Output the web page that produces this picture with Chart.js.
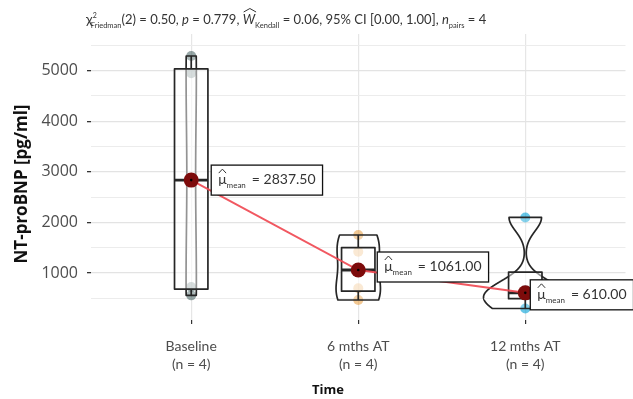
<!DOCTYPE html>
<html>
<head>
<meta charset="utf-8">
<script src="https://cdn.jsdelivr.net/npm/chart.js@4"></script>
<style>
html, body { margin: 0; padding: 0; background: #fff; }
</style>
</head>
<body>
<canvas id="myChart" width="633" height="399"></canvas>
<script>
// data
var groups = ['Baseline', '6 mths AT', '12 mths AT'];
var groupN = [4, 4, 4];
var baseline = [560, 725, 4950, 5290];
var sixMonths = [468, 700, 1422, 1753];
var twelveMonths = [300, 560, 660, 2100];
var meanValues = [2837.50, 1061.00, 610.00];
var yTicks = [500, 1000, 1500, 2000, 2500, 3000, 3500, 4000, 4500, 5000, 5500];
var yLabels = [1000, 2000, 3000, 4000, 5000];

var series = [baseline, sixMonths, twelveMonths];
var pointColors = ['rgba(47,79,79,0.5)', 'rgba(230,145,40,0.5)', 'rgba(0,160,215,0.6)'];
// where ggrepel put the mean labels (pixels from the mean dot)
var labelOffsets = [[20, 0], [19, -3], [5, 2]];

function quantile(arr, p) {
    var s = arr.slice().sort(function (a, b) { return a - b; });
    var h = (s.length - 1) * p;
    var lo = Math.floor(h);
    var hi = Math.ceil(h);
    return s[lo] + (h - lo) * (s[hi] - s[lo]);
}

function sd(arr) {
    var m = arr.reduce(function (a, b) { return a + b; }, 0) / arr.length;
    var ss = 0;
    arr.forEach(function (v) { ss += (v - m) * (v - m); });
    return Math.sqrt(ss / (arr.length - 1));
}

// gaussian kde with bw.nrd0, trimmed to the data range
function kde(arr) {
    var iqr = quantile(arr, 0.75) - quantile(arr, 0.25);
    var bw = 0.9 * Math.min(sd(arr), iqr / 1.34) * Math.pow(arr.length, -0.2);
    var lo = Math.min.apply(null, arr);
    var hi = Math.max.apply(null, arr);
    var out = [];
    for (var i = 0; i < 512; i++) {
        var y = lo + (hi - lo) * i / 511;
        var d = 0;
        arr.forEach(function (v) {
            var z = (y - v) / bw;
            d += Math.exp(-0.5 * z * z) / Math.sqrt(2 * Math.PI);
        });
        out.push({ y: y, d: d / (arr.length * bw) });
    }
    return out;
}

var densities = series.map(kde);
var maxDensity = 0;
densities.forEach(function (ds) {
    ds.forEach(function (p) { if (p.d > maxDensity) maxDensity = p.d; });
});

var boxViolin = {
    id: 'boxViolin',
    afterDatasetDraw: function (chart, args) {
        if (args.index !== 2) return;
        var ctx = chart.ctx;
        var xs = chart.scales.x;
        var ys = chart.scales.y;
        var unit = xs.getPixelForValue(2) - xs.getPixelForValue(1);
        ctx.save();
        ctx.strokeStyle = '#262626';
        ctx.lineJoin = 'round';
        series.forEach(function (arr, i) {
            var cx = xs.getPixelForValue(i + 1);
            // violin
            var dens = densities[i];
            ctx.beginPath();
            dens.forEach(function (p, k) {
                var px = cx + p.d / maxDensity * 0.25 * unit;
                var py = ys.getPixelForValue(p.y);
                if (k === 0) ctx.moveTo(px, py); else ctx.lineTo(px, py);
            });
            for (var k = dens.length - 1; k >= 0; k--) {
                ctx.lineTo(cx - dens[k].d / maxDensity * 0.25 * unit, ys.getPixelForValue(dens[k].y));
            }
            ctx.closePath();
            ctx.fillStyle = 'rgba(255,255,255,0.2)';
            ctx.fill();
            ctx.lineWidth = 1.7;
            ctx.stroke();

            // box
            var q1 = quantile(arr, 0.25), med = quantile(arr, 0.5), q3 = quantile(arr, 0.75);
            var iqr = q3 - q1;
            var inside = arr.filter(function (v) { return v >= q1 - 1.5 * iqr && v <= q3 + 1.5 * iqr; });
            var wLo = Math.min.apply(null, inside), wHi = Math.max.apply(null, inside);
            var half = 0.1 * unit;
            var yq1 = ys.getPixelForValue(q1), yq3 = ys.getPixelForValue(q3);
            ctx.lineWidth = 1.7;
            ctx.beginPath();
            if (wHi > q3) { ctx.moveTo(cx, yq3); ctx.lineTo(cx, ys.getPixelForValue(wHi)); }
            if (wLo < q1) { ctx.moveTo(cx, yq1); ctx.lineTo(cx, ys.getPixelForValue(wLo)); }
            ctx.stroke();
            ctx.fillStyle = 'rgba(255,255,255,0.5)';
            ctx.fillRect(cx - half, yq3, 2 * half, yq1 - yq3);
            ctx.strokeRect(cx - half, yq3, 2 * half, yq1 - yq3);
            ctx.lineWidth = 2.8;
            ctx.beginPath();
            ctx.moveTo(cx - half, ys.getPixelForValue(med));
            ctx.lineTo(cx + half, ys.getPixelForValue(med));
            ctx.stroke();
        });
        ctx.restore();
    },
    afterDatasetsDraw: function (chart) {
        var ctx = chart.ctx;
        var xs = chart.scales.x;
        var ys = chart.scales.y;
        ctx.save();
        meanValues.forEach(function (m, i) {
            var px = xs.getPixelForValue(i + 1);
            var py = ys.getPixelForValue(m);
            ctx.fillStyle = '#000';
            ctx.beginPath();
            ctx.arc(px, py, 1.3, 0, Math.PI * 2);
            ctx.fill();

            // label box: mu-hat_mean = value
            var txt = '= ' + m.toFixed(2);
            ctx.font = '14px Lato';
            var wMu = ctx.measureText('\u03bc').width;
            var wTxt = ctx.measureText(txt).width;
            ctx.font = '8px Lato';
            var wSub = ctx.measureText('mean').width;
            var bw = 7 + wMu + wSub + 6 + wTxt + 7;
            var bh = 30;
            var bx = px + labelOffsets[i][0];
            var by = py + labelOffsets[i][1] - bh / 2;
            ctx.fillStyle = '#fff';
            ctx.fillRect(bx, by, bw, bh);
            ctx.strokeStyle = '#111';
            ctx.lineWidth = 1.3;
            ctx.strokeRect(bx, by, bw, bh);
            ctx.fillStyle = '#333';
            ctx.textBaseline = 'alphabetic';
            ctx.textAlign = 'left';
            var base = by + 19;
            ctx.font = '14px Lato';
            ctx.fillText('\u03bc', bx + 7, base);
            // hat
            ctx.strokeStyle = '#333';
            ctx.lineWidth = 1;
            ctx.beginPath();
            ctx.moveTo(bx + 7.5, base - 11);
            ctx.lineTo(bx + 7 + wMu / 2, base - 15);
            ctx.lineTo(bx + 6.5 + wMu, base - 11);
            ctx.stroke();
            ctx.font = '8px Lato';
            ctx.fillText('mean', bx + 7 + wMu, base + 4);
            ctx.font = '14px Lato';
            ctx.fillText(txt, bx + 7 + wMu + wSub + 6, base);
        });
        ctx.restore();
    }
};

var decorations = {
    id: 'decorations',
    afterDraw: function (chart) {
        var ctx = chart.ctx;
        ctx.save();
        ctx.fillStyle = '#333';
        ctx.textBaseline = 'alphabetic';
        ctx.textAlign = 'left';
        // subtitle with sub/superscripts
        var parts = [
            ['\u03c7', 14, 0, ''], ['2', 7, -6, ''], ['Friedman', 7.5, 4, ''],
            ['(2) = 0.50, ', 13, 0, ''], ['p', 13, 0, 'italic '], [' = 0.779, ', 13, 0, ''],
            ['W', 13, 0, 'italic '], ['Kendall', 7.5, 4, ''],
            [' = 0.06, 95% CI [0.00, 1.00], ', 13, 0, ''], ['n', 13, 0, 'italic '],
            ['pairs', 7.5, 4, ''], [' = 4', 13, 0, '']
        ];
        var x = 86, base = 24;
        parts.forEach(function (p) {
            ctx.font = p[3] + p[1] + 'px Lato';
            var w = ctx.measureText(p[0]).width;
            ctx.fillText(p[0], x, base + p[2]);
            if (p[0] === 'W') {
                ctx.strokeStyle = '#333';
                ctx.lineWidth = 1;
                ctx.beginPath();
                ctx.moveTo(x + 1, base - 12);
                ctx.lineTo(x + w / 2 + 1, base - 15.5);
                ctx.lineTo(x + w + 1, base - 12);
                ctx.stroke();
            }
            x += w + (p[0] === '2' ? -6 : 0);
        });

        // axis titles
        ctx.fillStyle = '#111';
        ctx.textAlign = 'center';
        ctx.textBaseline = 'middle';
        ctx.font = 'bold 13px "Open Sans"';
        ctx.fillText('Time', 328, 390);
        ctx.translate(22, 184);
        ctx.rotate(-Math.PI / 2);
        ctx.font = 'bold 17px "Open Sans"';
        ctx.fillText('NT-proBNP [pg/ml]', 0, 0);
        ctx.restore();
    }
};

var ctx = document.getElementById('myChart').getContext('2d');
var datasets = [
    {
        type: 'scatter',
        data: meanValues.map(function (v, i) { return { x: i + 1, y: v }; }),
        pointRadius: 7.5,
        pointBackgroundColor: '#7d0b0b',
        pointBorderWidth: 0
    },
    {
        type: 'line',
        data: meanValues.map(function (v, i) { return { x: i + 1, y: v }; }),
        borderColor: 'rgba(240,70,80,0.9)',
        borderWidth: 2,
        pointRadius: 0,
        fill: false
    }
];
series.forEach(function (arr, i) {
    datasets.push({
        type: 'scatter',
        data: arr.map(function (v) { return { x: i + 1, y: v }; }),
        pointRadius: 5,
        pointBackgroundColor: pointColors[i],
        pointBorderWidth: 0
    });
});

var myChart = new Chart(ctx, {
    type: 'scatter',
    data: { datasets: datasets },
    options: {
        responsive: false,
        animation: false,
        layout: { padding: { top: 34, right: 4, left: 0, bottom: 0 } },
        plugins: { legend: { display: false }, tooltip: { enabled: false } },
        scales: {
            x: {
                type: 'linear',
                min: 0.4,
                max: 3.6,
                afterBuildTicks: function (s) {
                    s.ticks = groups.map(function (g, i) { return { value: i + 1 }; });
                },
                afterFit: function (s) { s.height = 79; },
                ticks: {
                    color: '#4d4d4d',
                    font: { family: 'Lato', size: 14, lineHeight: 1.3 },
                    padding: 13,
                    maxRotation: 0,
                    callback: function (v) {
                        var i = Math.round(v) - 1;
                        return [groups[i], '(n = ' + groupN[i] + ')'];
                    }
                },
                grid: { color: '#e6e6e6', lineWidth: 1.2, tickColor: '#333', tickLength: 4 },
                border: { display: false }
            },
            y: {
                min: 73,
                max: 5725,
                afterBuildTicks: function (s) {
                    s.ticks = yTicks.map(function (v) { return { value: v }; });
                },
                afterFit: function (s) { s.width = 91; },
                ticks: {
                    color: '#4d4d4d',
                    font: { family: 'Open Sans', size: 16 },
                    padding: 9,
                    autoSkip: false,
                    callback: function (v) { return yLabels.indexOf(v) >= 0 ? String(v) : ''; }
                },
                grid: {
                    color: function (c) { return yLabels.indexOf(c.tick.value) >= 0 ? '#e3e3e3' : '#ececec'; },
                    lineWidth: function (c) { return yLabels.indexOf(c.tick.value) >= 0 ? 1.3 : 1; },
                    tickColor: function (c) { return yLabels.indexOf(c.tick.value) >= 0 ? '#333' : 'rgba(0,0,0,0)'; },
                    tickLength: 4
                },
                border: { display: false }
            }
        }
    },
    plugins: [boxViolin, decorations]
});
</script>
</body>
</html>
